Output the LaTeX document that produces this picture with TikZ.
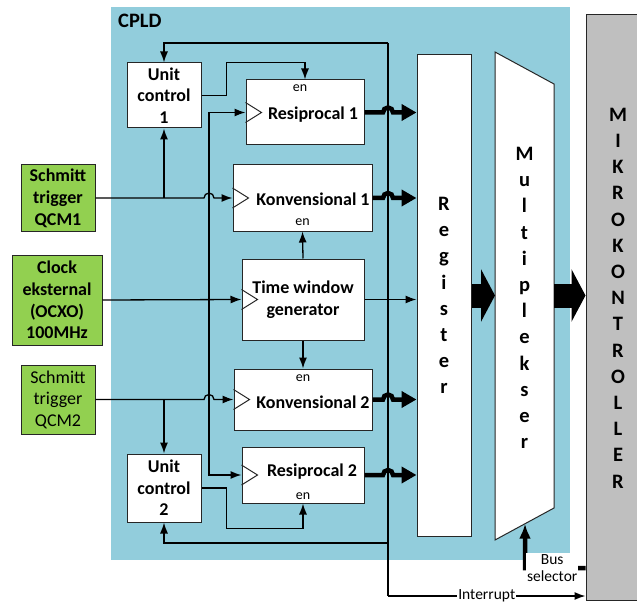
\documentclass[tikz,border=0pt]{standalone}
\usepackage{fontspec}
\setmainfont{Carlito}
\usetikzlibrary{arrows.meta,calc}
\definecolor{cpldblue}{RGB}{146,205,220}
\definecolor{srcgreen}{RGB}{146,208,80}
\tikzset{
  blk/.style={draw=black!85,fill=white,line width=1pt,inner sep=0pt},
  src/.style={draw=black!85,fill=srcgreen,line width=1pt,inner sep=0pt,align=center,
    font=\fontsize{18}{21.5}\selectfont},
  bt/.style={font=\bfseries\fontsize{18}{21.5}\selectfont,align=center,inner sep=0pt},
  vt/.style={font=\bfseries\fontsize{20.5}{26.2}\selectfont,align=center,inner sep=0pt},
  enl/.style={font=\fontsize{14}{15}\selectfont,inner sep=0pt},
  lbl/.style={font=\fontsize{15.5}{17}\selectfont,align=center,fill=white,inner sep=1.5pt},
  clk/.style={draw=black!85,line width=1pt},
  wire/.style={draw=black,line width=1.3pt},
  arr/.style={wire,-{Latex[length=11pt,width=8pt]}},
  bus/.style={draw=black,line width=4.5pt,-{Triangle[length=15pt,width=16pt]}},
  sel/.style={draw=black,line width=4.5pt,-{Latex[length=15pt,width=12pt]}},
  fat/.style={draw=black,line width=24pt,-{Triangle[length=14pt,width=52pt]}},
}
\begin{document}
\begin{tikzpicture}[x=1pt,y=-1pt]
\useasboundingbox (0,0) rectangle (637,604);
% CPLD area and microcontroller
\fill[cpldblue] (111,7) rectangle (570,560);
\node[bt,anchor=west,font=\bfseries\fontsize{20.5}{24}\selectfont] (cpld) at (118,21) {CPLD};
\node[draw=black!85,fill=black!25,line width=1pt,minimum width=60pt,minimum height=585pt] (mcu) at (616,307.5) {};
\node[vt] (mcut) at (618,298) {M\\I\\K\\R\\O\\K\\O\\N\\T\\R\\O\\L\\L\\E\\R};
% inputs
\node[src,font=\bfseries\fontsize{18}{22}\selectfont,minimum width=74pt,minimum height=66pt] (st1) at (58,198) {Schmitt\\trigger\\QCM1};
\node[src,font=\bfseries\fontsize{18}{21.7}\selectfont,minimum width=90pt,minimum height=90pt] (clk) at (57,300) {Clock\\eksternal\\(OCXO)\\100MHz};
\node[src,minimum width=74pt,minimum height=69pt] (st2) at (58,399.5) {Schmitt\\trigger\\QCM2};
% counters
\node[blk,bt,minimum width=74pt,minimum height=65pt] (uc1) at (164,95.5) {Unit\\control\\1};
\node[blk,bt,minimum width=74pt,minimum height=68pt] (uc2) at (164,488) {Unit\\control\\2};
\node[blk,minimum width=118pt,minimum height=65pt] (res1) at (305,112.5) {};
\node[blk,minimum width=139pt,minimum height=66pt] (kon1) at (302.5,198) {};
\node[blk,bt,minimum width=122pt,minimum height=81pt] (twg) at (303,299.5) {Time window\\generator};
\node[blk,minimum width=138pt,minimum height=61pt] (kon2) at (303,399.5) {};
\node[blk,minimum width=122pt,minimum height=56pt] (res2) at (303,475) {};
\node[bt] (res1t) at ($(res1.center)+(8,2.5)$) {Resiprocal 1};
\node[bt] (kon1t) at ($(kon1.center)+(10.5,1)$) {Konvensional 1};
\node[bt] (kon2t) at ($(kon2.center)+(10,2.5)$) {Konvensional 2};
\node[bt] (res2t) at ($(res2.center)+(9,-3)$) {Resiprocal 2};
\node[enl] (en1) at ($(res1.north)+(-5,9)$) {en};
\node[enl] (en2) at ($(kon1.south)+(0,-9)$) {en};
\node[enl] (en3) at ($(kon2.north)+(0,10)$) {en};
\node[enl] (en4) at ($(res2.south)+(0,-7)$) {en};
\foreach \n in {res1,kon1,twg,kon2,res2}
  \draw[clk] ($(\n.west)+(0,-10)$) -- ($(\n.west)+(16,0)$) -- ($(\n.west)+(0,10)$);
% register and multiplexer
\node[blk,minimum width=54pt,minimum height=481pt] (reg) at (444,295.5) {};
\node[vt] (regt) at (reg.center) {R\\e\\g\\i\\s\\t\\e\\r};
\draw[blk] (495,52) coordinate (mnw) -- (554,84) coordinate (mne)
  -- (554,508) coordinate (mse) -- (495,540) coordinate (msw) -- cycle;
\node[vt] (mux) at (524.5,298) {M\\u\\l\\t\\i\\p\\l\\e\\k\\s\\e\\r};
% clock and trigger wiring
\coordinate (cbus) at (209,299);
\draw[arr] (clk.east) -- (twg.west);
\draw[arr] (cbus) |- (res1.west);
\draw[arr] (cbus) |- (res2.west);
\draw[arr] (st1.east) -- ($(st1.east -| cbus)+(-5,0)$) arc (180:0:5pt) -- (kon1.west);
\draw[arr] (st2.east) -- ($(st2.east -| cbus)+(-5,0)$) arc (180:0:5pt) -- (kon2.west);
\draw[arr] (st1.east -| uc1.south) -- (uc1.south);
\draw[arr] (st2.east -| uc2.north) -- (uc2.north);
% enables
\draw[arr] (uc1.east) -- ++(25,0) |- ([yshift=17pt]res1.north) -- (res1.north);
\draw[arr] (uc2.east) -- ++(25,0) |- ([yshift=-25pt]res2.south) -- (res2.south);
\draw[arr] (twg.north) -- (kon1.south);
\draw[arr] (twg.south) -- (kon2.north);
\draw[arr] (twg.east) -- (twg.east -| reg.west);
% feedback and interrupt
\coordinate (fbt) at (388,43); \coordinate (fbb) at (388,543);
\coordinate (irq) at (388,596);
\draw[wire] (fbt) -- (irq);
\draw[arr] (fbt) -| (uc1.north);
\draw[arr] (fbb) -| (uc2.south);
\draw[arr] (irq) -- node[lbl,inner sep=1pt] {Interrupt} (irq -| mcu.west);
% count outputs
\foreach \n in {res1,kon1,kon2,res2}
  \draw[bus] (\n.east) -- ($(\n.east -| fbt)+(-5,0)$) arc (180:0:5pt) -- (\n.east -| reg.west);
\draw[fat] (reg.east) -- (reg.east -| mnw);
\draw[fat] (mne |- reg.east) -- (mcu.west |- reg.east);
% bus selector
\coordinate (selc) at (525,568);
\coordinate (msel) at ($(msw)!0.5085!(mse)$);
\draw[sel] (mcu.west |- selc) -- node[lbl,pos=0.55,inner sep=1pt] {Bus\\selector} (selc) -- (msel);
\end{tikzpicture}
\end{document}
